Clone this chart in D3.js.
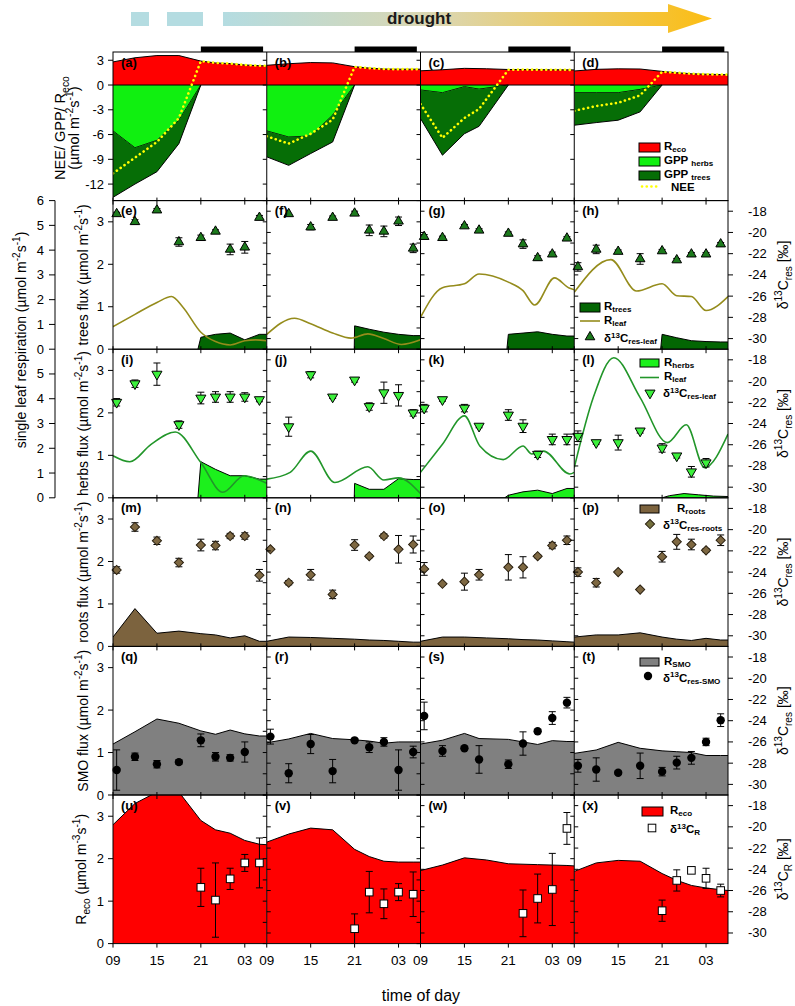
<!DOCTYPE html>
<html><head><meta charset="utf-8">
<script src="https://cdn.jsdelivr.net/npm/d3@7/dist/d3.min.js"></script>
<style>body{margin:0;background:#fff;} text{font-family:"Liberation Sans",Arial,sans-serif;}</style>
</head><body>
<svg id="chart" width="795" height="1006"></svg>
<script>
// ---------------- categories / ticks
const hourTicks = [9, 15, 21, 27];
const hourTickLabels = ["09", "15", "21", "03"];
const panelLetters = ["a","b","c","d","e","f","g","h","i","j","k","l","m","n","o","p","q","r","s","t","u","v","w","x"];
const row0Ticks = [-12, -9, -6, -3, 0, 3];
const fluxTicks = [0, 1, 2, 3];
const deltaTicks = [-30, -28, -26, -24, -22, -20, -18];
const leafTicks = [0, 1, 2, 3, 4, 5, 6];
const nightBar = [21, 29.5];

// ---------------- (a-d) NEE / GPP / Reco
const recoHours = [9, 12, 15, 18, 21, 23, 25, 27, 29, 30];
const recoValues = [
  [2.8, 3.3, 3.57, 3.57, 2.9, 2.68, 2.6, 2.43, 2.34, 2.33],
  [2.39, 2.58, 2.72, 2.68, 2.22, 2.05, 1.94, 1.92, 1.92, 1.92],
  [1.72, 1.85, 2.02, 1.97, 1.88, 1.87, 1.86, 1.85, 1.84, 1.83],
  [1.70, 1.9, 1.96, 1.94, 1.65, 1.49, 1.37, 1.31, 1.27, 1.25]];
const gppHours = [[9, 12, 15, 18, 21], [9, 12, 15, 18, 21], [9, 12, 15, 17, 21], [9, 12, 15, 18, 21]];
const gppHerbs = [
  [-5.56, -7.6, -6.7, -4.26, 0],
  [-5.56, -6.3, -6.17, -3.65, 0],
  [-0.6, -0.93, -0.2, -0.5, 0],
  [-0.93, -0.93, -0.93, -0.53, 0]];
const gppTrees = [
  [-8.04, -4.4, -3.8, -2.84, 0],
  [-3.14, -3.43, -2.13, -3.25, 0],
  [-3.46, -7.57, -5.7, -4.5, 0],
  [-3.94, -3.62, -3.33, -2.72, 0]];
const neeHours = [
  [9, 12, 15, 18, 21, 23, 25, 27, 29, 30],
  [9, 12, 15, 18, 21, 23, 25, 27, 29, 30],
  [9, 12, 15, 17, 21, 23, 25, 27, 29, 30],
  [9, 12, 15, 18, 21, 23, 25, 27, 29, 30]];
const neeValues = [
  [-10.7, -8.8, -6.9, -4.0, 2.9, 2.68, 2.6, 2.43, 2.34, 2.33],
  [-6.2, -7.1, -5.9, -4.2, 2.2, 2.05, 1.94, 1.92, 1.92, 1.92],
  [-2.3, -6.4, -4.0, -2.9, 1.85, 1.87, 1.86, 1.85, 1.84, 1.83],
  [-3.12, -2.55, -2.15, -1.25, 1.6, 1.49, 1.37, 1.31, 1.27, 1.25]];

// ---------------- (e-h) trees
const leafTreesHours = [
  [9, 12, 15, 17, 18.5, 21, 23, 25, 27, 28.5, 30],
  [9, 12.8, 15, 18, 20.5, 22.8, 25, 27.4, 30],
  [9, 12, 15, 17, 21, 23, 24.6, 27.3, 29.3, 30],
  [9, 14, 17.5, 21, 23, 25, 27, 30]];
const leafTreesValues = [
  [0.53, 0.82, 1.1, 1.24, 1.0, 0.4, 0.18, 0.1, 0.2, 0.22, 0.2],
  [0.35, 0.73, 0.6, 0.38, 0.26, 0.36, 0.25, 0.11, 0.22],
  [0.75, 1.45, 1.54, 1.77, 1.58, 1.38, 1.04, 1.68, 1.44, 1.4],
  [1.34, 2.11, 1.37, 1.54, 1.26, 1.24, 0.91, 1.24]];
const rTreesHours = [
  [20.6, 21, 23, 25, 27, 29, 30],
  [20.95, 21, 23, 25, 27, 29, 30],
  [20.8, 21, 23, 25, 27, 29, 30],
  [20.8, 21, 23, 25, 27, 29, 30]];
const rTreesValues = [
  [0, 0.28, 0.35, 0.38, 0.22, 0.35, 0.35],
  [0, 0.55, 0.47, 0.4, 0.35, 0.32, 0.32],
  [0, 0.35, 0.38, 0.41, 0.35, 0.31, 0.31],
  [0, 0.35, 0.27, 0.2, 0.18, 0.17, 0.17]];
const dTreesHours = [
  [9.5, 12, 15, 18, 21, 23, 25, 27, 29],
  [12, 15, 18, 21, 23, 25, 27, 29],
  [9.5, 12, 15, 17, 21, 23, 25, 27, 29],
  [9.5, 12, 15, 18, 21, 23, 25, 27, 29]];
const dTreesValues = [
  [-18.25, -19.0, -17.9, -20.9, -20.5, -19.9, -21.6, -21.4, -18.6],
  [-18.25, -19.5, -18.6, -18.2, -19.8, -19.9, -18.95, -21.5],
  [-20.4, -20.5, -19.4, -19.8, -20.1, -21.1, -22.4, -22.05, -20.55],
  [-23.25, -21.6, -21.8, -22.5, -21.75, -22.6, -22.05, -22.05, -21.1]];
const dTreesErr = [
  [0.15, 0.2, 0.15, 0.4, 0.25, 0.15, 0.5, 0.55, 0.2],
  [0.1, 0.25, 0.15, 0.2, 0.5, 0.5, 0.4, 0.4],
  [0.2, 0.15, 0.15, 0.15, 0.15, 0.4, 0.2, 0.2, 0.15],
  [0.4, 0.4, 0.15, 0.5, 0.15, 0.15, 0.15, 0.15, 0.15]];

// ---------------- (i-l) herbs
const leafHerbsHours = [
  [9, 11.3, 14.2, 17.5, 21, 24, 26.9, 30],
  [9, 12.2, 15, 18.3, 22.8, 25, 27, 30],
  [9, 12, 15, 17.1, 20.3, 23, 24.2, 25.8, 29.4, 30],
  [9, 11.6, 14.4, 18, 21.7, 24.3, 26.8, 30]];
const leafHerbsValues = [
  [0.99, 0.85, 1.26, 1.55, 0.83, 0.13, 0.52, 0.34],
  [0.44, 0.6, 1.1, 0.36, 0.73, 0.42, 0.47, 0.1],
  [0.6, 1.26, 1.93, 1.22, 0.9, 1.22, 1.03, 1.1, 0.56, 0.6],
  [0.71, 2.36, 3.3, 2.36, 1.3, 1.72, 0.71, 1.5]];
const rHerbsHours = [
  [20.6, 21, 23, 25, 27, 29, 30],
  [20.95, 21, 23, 25, 27, 29, 30],
  [20.5, 21, 23, 25, 27, 29, 30],
  [21, 22, 24, 26, 28, 30]];
const rHerbsValues = [
  [0, 0.85, 0.67, 0.52, 0.52, 0.44, 0.44],
  [0, 0.34, 0.2, 0.2, 0.45, 0.43, 0.43],
  [0, 0.06, 0.14, 0.18, 0.1, 0.22, 0.22],
  [0, 0.05, 0.1, 0.07, 0.04, 0.03]];
const dHerbsHours = [
  [9.5, 12, 15, 18, 21, 23, 25, 27, 29],
  [12, 15, 18, 21, 23, 25, 27, 29],
  [9.5, 12, 15, 17, 21, 23, 25, 27, 29],
  [9.5, 12, 15, 18, 21, 23, 25, 27]];
const dHerbsValues = [
  [-22.0, -20.25, -19.35, -24.1, -21.6, -21.5, -21.5, -21.5, -21.75],
  [-24.3, -19.4, -21.5, -19.9, -22.4, -21.1, -21.35, -23.0],
  [-22.55, -21.75, -22.55, -24.25, -23.2, -24.25, -26.9, -25.5, -25.5],
  [-25.2, -25.8, -25.8, -24.7, -26.3, -27.05, -28.55, -27.7]];
const dHerbsErr = [
  [0.35, 0.35, 1.05, 0.35, 0.55, 0.5, 0.5, 0.4, 0.2],
  [0.9, 0.3, 0.15, 0.2, 0.35, 1.0, 1.0, 0.3],
  [0.35, 0.15, 0.35, 0.15, 0.5, 0.6, 0.3, 0.5, 0.5],
  [0.5, 0.15, 0.7, 0.2, 0.4, 0.2, 0.5, 0.4]];

// ---------------- (m-p) roots
const rootsHours = [9, 12, 15, 18, 21, 23, 25, 27, 29, 30];
const rRootsValues = [
  [0.22, 0.89, 0.31, 0.36, 0.3, 0.27, 0.2, 0.25, 0.12, 0.12],
  [0.12, 0.22, 0.21, 0.19, 0.17, 0.15, 0.14, 0.12, 0.1, 0.1],
  [0.12, 0.22, 0.22, 0.2, 0.18, 0.16, 0.15, 0.13, 0.11, 0.1],
  [0.22, 0.27, 0.27, 0.32, 0.22, 0.17, 0.14, 0.19, 0.15, 0.15]];
const dRootsHours = [
  [9.5, 12, 15, 18, 21, 23, 25, 27, 29],
  [9.5, 12, 15, 18, 21, 23, 25, 27, 29],
  [9.5, 12, 15, 17, 21, 23, 25, 27, 29],
  [9.5, 12, 15, 18, 21, 23, 25, 27, 29]];
const dRootsValues = [
  [-23.8, -19.75, -21.05, -23.1, -21.45, -21.5, -20.6, -20.6, -24.3],
  [-21.85, -25.0, -24.25, -26.1, -21.45, -22.5, -20.6, -21.85, -21.4],
  [-23.7, -25.1, -24.9, -24.25, -23.55, -23.55, -22.5, -21.5, -21.0],
  [-24.0, -25.0, -24.0, -25.65, -22.55, -21.15, -21.4, -21.95, -21.0]];
const dRootsErr = [
  [0.3, 0.4, 0.35, 0.4, 0.55, 0.4, 0.25, 0.3, 0.55],
  [0.1, 0.2, 0.5, 0.4, 0.5, 0.15, 0.2, 1.3, 0.8],
  [0.6, 0.1, 0.8, 0.5, 1.2, 1.0, 0.15, 0.3, 0.4],
  [0.4, 0.4, 0.1, 0.1, 0.5, 0.7, 0.5, 0.15, 0.5]];

// ---------------- (q-t) SMO
const smoHours = [
  [9, 12, 15, 18, 21, 23, 25, 27, 29, 30],
  [9, 12, 15, 18, 21, 23, 25, 27, 29, 30],
  [9, 12, 15, 17, 21, 23, 25, 27, 29, 30],
  [9, 12, 15, 18, 21, 23, 25, 27, 29, 30]];
const rSmoValues = [
  [1.2, 1.49, 1.79, 1.69, 1.51, 1.43, 1.53, 1.44, 1.39, 1.39],
  [1.23, 1.32, 1.45, 1.33, 1.3, 1.27, 1.22, 1.25, 1.25, 1.25],
  [1.2, 1.29, 1.45, 1.33, 1.31, 1.25, 1.19, 1.28, 1.26, 1.26],
  [0.98, 1.06, 1.24, 1.1, 1.04, 1.02, 1.0, 0.93, 0.93, 0.93]];
const dSmoHours = [
  [9.5, 12, 15, 18, 21, 23, 25, 27],
  [9.5, 12, 15, 18, 21, 23, 25, 27, 29],
  [9.5, 12, 15, 17, 21, 23, 25, 27, 29],
  [9.5, 12, 15, 18, 21, 23, 25, 27, 29]];
const dSmoValues = [
  [-28.65, -27.4, -28.1, -27.9, -25.85, -27.4, -27.5, -26.95],
  [-25.5, -28.95, -26.2, -28.75, -25.85, -26.5, -26.0, -28.65, -26.95],
  [-23.55, -26.85, -26.6, -27.65, -28.1, -26.15, -25.0, -23.75, -22.3],
  [-28.25, -28.6, -28.9, -28.25, -28.8, -27.95, -27.5, -26.0, -23.95]];
const dSmoErr = [
  [1.9, 0.35, 0.35, 0.2, 0.6, 0.4, 0.3, 0.95],
  [0.7, 0.9, 0.9, 1.1, 0.15, 0.5, 0.4, 1.9, 0.55],
  [1.3, 0.5, 0.15, 1.3, 0.4, 1.1, 0.15, 0.6, 0.5],
  [0.6, 1.1, 0.15, 1.2, 0.4, 0.6, 0.6, 0.35, 0.6]];

// ---------------- (u-x) Reco and d13C_R
const dRHours = [[21, 23, 25, 27, 29], [21, 23, 25, 27, 29], [23, 25, 27, 29], [21, 23, 25, 27, 29]];
const dRValues = [
  [-25.7, -26.9, -24.9, -23.4, -23.4],
  [-29.6, -26.15, -27.25, -26.15, -26.35],
  [-28.15, -26.75, -25.9, -20.15],
  [-27.9, -25.05, -24.1, -24.85, -26.0]];
const dRErr = [
  [1.8, 3.5, 1.0, 0.8, 2.35],
  [1.4, 1.95, 1.4, 0.8, 2.1],
  [2.2, 2.3, 3.4, 1.5],
  [1.0, 1.0, 0.2, 0.95, 0.6]];

// ================= drawing =================
const svg = d3.select('#chart');
const defs = svg.append('defs');
const L = 113, R = 728, colW = (R - L) / 4, T0 = 52, RH = 148.6;
const rowTop = r => T0 + r * RH;
const xS = c => d3.scaleLinear().domain([9, 30]).range([L + c * colW, L + (c + 1) * colW]);
const y0S = d3.scaleLinear().domain([-14, 4]).range([T0 + RH, T0]);
const yF = r => d3.scaleLinear().domain([0, 3.5]).range([rowTop(r) + RH, rowTop(r)]);
const yD = r => d3.scaleLinear().domain([-31, -17]).range([rowTop(r) + RH, rowTop(r)]);
const leafUpper = d3.scaleLinear().domain([0, 6]).range([rowTop(1) + RH, rowTop(1)]);
const leafLower = d3.scaleLinear().domain([0, 6]).range([rowTop(2) + RH, rowTop(2)]);

function rich(parent, x, y, parts, o = {}) {
  const fs = o.size || 14;
  const subK = o.sub || 0.3, supK = o.sup || 0.4, sc = o.sc || 0.72;
  const t = parent.append('text').attr('x', x).attr('y', y)
    .attr('font-size', fs).attr('font-weight', o.weight || 'normal')
    .attr('text-anchor', o.anchor || 'start').attr('fill', '#000');
  if (o.rotate) t.attr('transform', `rotate(-90,${x},${y})`);
  let off = 0;
  parts.forEach(p => {
    const [s, k] = Array.isArray(p) ? p : [p, 'n'];
    let target = 0, size = fs;
    if (k === 'sub') { target = fs * subK; size = fs * sc; }
    if (k === 'sup') { target = -fs * supK; size = fs * sc; }
    t.append('tspan').text(s).attr('font-size', size).attr('dy', target - off);
    off = target;
  });
  return t;
}

function clipFor(r, c) {
  const id = `cl${r}_${c}`;
  defs.append('clipPath').attr('id', id).append('rect')
    .attr('x', L + c * colW).attr('y', rowTop(r)).attr('width', colW).attr('height', RH);
  return svg.append('g').attr('clip-path', `url(#${id})`);
}

function drawArea(g, x, y, hs, vs, fill, base) {
  const a = d3.area().x((d, i) => x(hs[i])).y0((d, i) => y(base ? base[i] : 0)).y1(d => y(d));
  g.append('path').attr('d', a(vs)).attr('fill', fill);
  const ln = d3.line().x((d, i) => x(hs[i])).y(d => y(d));
  g.append('path').attr('d', ln(vs)).attr('fill', 'none').attr('stroke', '#000').attr('stroke-width', 1);
}
function drawSmooth(g, x, y, hs, vs, color) {
  const ln = d3.line().curve(d3.curveMonotoneX).x((d, i) => x(hs[i])).y(d => y(d));
  g.append('path').attr('d', ln(vs)).attr('fill', 'none').attr('stroke', color).attr('stroke-width', 1.6);
}
function marker(g, px, py, shape, fill) {
  if (shape === 'tri') {
    g.append('path').attr('d', d3.symbol(d3.symbolTriangle, 40)()).attr('transform', `translate(${px},${py})`)
      .attr('fill', fill).attr('stroke', '#000').attr('stroke-width', 1);
  } else if (shape === 'tridown') {
    g.append('path').attr('d', d3.symbol(d3.symbolTriangle, 44)()).attr('transform', `translate(${px},${py}) rotate(180)`)
      .attr('fill', fill).attr('stroke', '#000').attr('stroke-width', 1);
  } else if (shape === 'diamond') {
    g.append('path').attr('d', d3.symbol(d3.symbolSquare, 42)()).attr('transform', `translate(${px},${py}) rotate(45)`)
      .attr('fill', fill).attr('stroke', '#2a2010').attr('stroke-width', 1);
  } else if (shape === 'circle') {
    g.append('circle').attr('cx', px).attr('cy', py).attr('r', 4.2).attr('fill', fill);
  } else if (shape === 'square') {
    g.append('rect').attr('x', px - 3.8).attr('y', py - 3.8).attr('width', 7.6).attr('height', 7.6)
      .attr('fill', fill).attr('stroke', '#000').attr('stroke-width', 1);
  }
}
function drawPoints(g, x, y, hs, vs, es, shape, fill) {
  hs.forEach((h, i) => {
    const px = x(h);
    if (es && es[i] > 0.12) {
      const a = y(vs[i] + es[i]), b = y(vs[i] - es[i]);
      g.append('line').attr('x1', px).attr('x2', px).attr('y1', a).attr('y2', b).attr('stroke', '#000');
      [a, b].forEach(yy => g.append('line').attr('x1', px - 3.5).attr('x2', px + 3.5).attr('y1', yy).attr('y2', yy).attr('stroke', '#000'));
    }
  });
  hs.forEach((h, i) => marker(g, x(h), y(vs[i]), shape, fill));
}

// ---- banner
const grad = defs.append('linearGradient').attr('id', 'dg').attr('x1', '0%').attr('x2', '100%').attr('y1', '0%').attr('y2', '0%');
grad.append('stop').attr('offset', '0%').attr('stop-color', '#b4dce1');
grad.append('stop').attr('offset', '45%').attr('stop-color', '#dcd6ae');
grad.append('stop').attr('offset', '100%').attr('stop-color', '#fcbd12');
svg.append('rect').attr('x', 131).attr('y', 12).attr('width', 18).attr('height', 14).attr('fill', '#b4dce1');
svg.append('rect').attr('x', 167).attr('y', 12).attr('width', 36).attr('height', 14).attr('fill', '#b4dce1');
svg.append('polygon').attr('points', '223,12 668,12 668,4 712,18.5 668,33 668,26 223,26').attr('fill', 'url(#dg)');
svg.append('text').attr('x', 419).attr('y', 24).attr('text-anchor', 'middle').attr('font-size', 17)
  .attr('font-weight', 'bold').attr('fill', '#1a1a1a').text('drought');

// ---- row 0
for (let c = 0; c < 4; c++) {
  const x = xS(c), y = y0S;
  const g = clipFor(0, c);
  drawArea(g, x, y, recoHours, recoValues[c], '#ff0000');
  const hs = gppHours[c];
  const herbs = gppHerbs[c];
  const total = herbs.map((v, i) => v + gppTrees[c][i]);
  drawArea(g, x, y, hs, herbs, '#10f010');
  drawArea(g, x, y, hs, total, '#066e06', herbs);
  g.append('line').attr('x1', x(9)).attr('x2', x(30)).attr('y1', y(0)).attr('y2', y(0)).attr('stroke', '#000');
  const ln = d3.line().x((d, i) => x(neeHours[c][i])).y(d => y(d));
  g.append('path').attr('d', ln(neeValues[c])).attr('fill', 'none').attr('stroke', '#ffff00')
    .attr('stroke-width', 2.6).attr('stroke-dasharray', '0.1,4.6').attr('stroke-linecap', 'round');
  svg.append('rect').attr('x', x(nightBar[0])).attr('y', T0 - 5.5).attr('width', x(nightBar[1]) - x(nightBar[0]))
    .attr('height', 5.5).attr('fill', '#000');
}

// ---- rows 1-4 generic
const rowsSpec = [
  {leafH: leafTreesHours, leafV: leafTreesValues, leafC: '#958c1c', areaH: rTreesHours, areaV: rTreesValues, areaC: '#036603',
   dH: dTreesHours, dV: dTreesValues, dE: dTreesErr, shape: 'tri', mfill: '#1c7a1c'},
  {leafH: leafHerbsHours, leafV: leafHerbsValues, leafC: '#22962a', areaH: rHerbsHours, areaV: rHerbsValues, areaC: '#1cf01c',
   dH: dHerbsHours, dV: dHerbsValues, dE: dHerbsErr, shape: 'tridown', mfill: '#3cf03c'},
  {areaH: [rootsHours, rootsHours, rootsHours, rootsHours], areaV: rRootsValues, areaC: '#7c633e',
   dH: dRootsHours, dV: dRootsValues, dE: dRootsErr, shape: 'diamond', mfill: '#7e6842'},
  {areaH: smoHours, areaV: rSmoValues, areaC: '#808080',
   dH: dSmoHours, dV: dSmoValues, dE: dSmoErr, shape: 'circle', mfill: '#000'}];
rowsSpec.forEach((sp, k) => {
  const r = k + 1;
  for (let c = 0; c < 4; c++) {
    const x = xS(c), y = yF(r), yd = yD(r);
    const g = clipFor(r, c);
    drawArea(g, x, y, sp.areaH[c], sp.areaV[c], sp.areaC);
    if (sp.leafH) drawSmooth(g, x, y, sp.leafH[c], sp.leafV[c], sp.leafC);
    drawPoints(svg, x, yd, sp.dH[c], sp.dV[c], sp.dE[c], sp.shape, sp.mfill);
  }
});

// ---- row 5
for (let c = 0; c < 4; c++) {
  const x = xS(c), y = yF(5), yd = yD(5);
  const g = clipFor(5, c);
  drawArea(g, x, y, recoHours, recoValues[c], '#ff0000');
  drawPoints(g, x, yd, dRHours[c], dRValues[c], dRErr[c], 'square', '#fff');
}

// ---- frames, ticks
const ax = svg.append('g').attr('stroke', '#000').attr('stroke-width', 1);
const tl = svg.append('g').attr('font-size', 13);
for (let r = 0; r < 6; r++) {
  const t = rowTop(r), b = t + RH;
  ax.append('rect').attr('x', L).attr('y', t).attr('width', R - L).attr('height', RH).attr('fill', 'none');
  for (let c = 1; c < 4; c++) {
    const xx = L + c * colW;
    ax.append('line').attr('x1', xx).attr('x2', xx).attr('y1', t).attr('y2', b);
  }
  for (let c = 0; c < 4; c++) {
    const x = xS(c);
    hourTicks.forEach(h => {
      ax.append('line').attr('x1', x(h)).attr('x2', x(h)).attr('y1', b).attr('y2', b + 4);
      if (r > 0) ax.append('line').attr('x1', x(h)).attr('x2', x(h)).attr('y1', t).attr('y2', t - 3);
    });
  }
  if (r === 0) {
    row0Ticks.forEach(v => {
      ax.append('line').attr('x1', L - 5).attr('x2', L).attr('y1', y0S(v)).attr('y2', y0S(v));
      for (let c = 1; c < 4; c++) {
        const xx = L + c * colW;
        ax.append('line').attr('x1', xx - 4).attr('x2', xx).attr('y1', y0S(v)).attr('y2', y0S(v));
      }
      tl.append('text').attr('x', L - 9).attr('y', y0S(v) + 4.5).attr('text-anchor', 'end').text(v);
    });
  } else {
    const y = yF(r), yd = yD(r);
    fluxTicks.forEach(v => {
      ax.append('line').attr('x1', L - 5).attr('x2', L).attr('y1', y(v)).attr('y2', y(v));
      tl.append('text').attr('x', L - 9).attr('y', y(v) + 4.5).attr('text-anchor', 'end').text(v);
    });
    d3.range(0, 3.51, 0.5).forEach(v => {
      for (let c = 1; c < 4; c++) {
        const xx = L + c * colW;
        ax.append('line').attr('x1', xx - 4).attr('x2', xx).attr('y1', y(v)).attr('y2', y(v));
      }
    });
    deltaTicks.forEach(v => {
      for (let c = 1; c < 4; c++) {
        const xx = L + c * colW;
        ax.append('line').attr('x1', xx).attr('x2', xx + 4).attr('y1', yd(v)).attr('y2', yd(v));
      }
      ax.append('line').attr('x1', R).attr('x2', R + 5).attr('y1', yd(v)).attr('y2', yd(v));
      tl.append('text').attr('x', 748).attr('y', yd(v) + 4.5).attr('text-anchor', 'start').text(v);
    });
  }
}

// bottom tick labels
for (let c = 0; c < 4; c++) {
  const x = xS(c);
  hourTicks.forEach((h, i) => {
    svg.append('text').attr('x', x(h)).attr('y', 965).attr('text-anchor', 'middle').attr('font-size', 13.5).text(hourTickLabels[i]);
  });
}
svg.append('text').attr('x', 421).attr('y', 1001).attr('text-anchor', 'middle').attr('font-size', 16).text('time of day');

// single leaf respiration outer axis
ax.append('line').attr('x1', 55).attr('x2', 55).attr('y1', rowTop(1)).attr('y2', rowTop(3));
leafTicks.forEach(v => {
  ax.append('line').attr('x1', 49).attr('x2', 55).attr('y1', leafUpper(v)).attr('y2', leafUpper(v));
  tl.append('text').attr('x', 44).attr('y', leafUpper(v) + 4.5).attr('text-anchor', 'end').text(v);
  if (v < 6) {
    ax.append('line').attr('x1', 49).attr('x2', 55).attr('y1', leafLower(v)).attr('y2', leafLower(v));
    tl.append('text').attr('x', 44).attr('y', leafLower(v) + 4.5).attr('text-anchor', 'end').text(v);
  }
});

// panel letters
panelLetters.forEach((l, i) => {
  const r = Math.floor(i / 4), c = i % 4;
  svg.append('text').attr('x', L + c * colW + 8).attr('y', rowTop(r) + 14.5).attr('font-size', 13)
    .attr('font-weight', 'bold').text(`(${l})`);
});

// ---- axis titles
const unitParts = ['(µmol m', ['-2', 'sup'], 's', ['-1', 'sup'], ')'];
rich(svg, 65, 128, ['NEE/ GPP/ R', ['eco', 'sub']], {rotate: true, anchor: 'middle', size: 14.5});
rich(svg, 79, 128, unitParts, {rotate: true, anchor: 'middle', size: 14.5});
rich(svg, 88, rowTop(1) + RH / 2, ['trees flux ', ...unitParts], {rotate: true, anchor: 'middle'});
rich(svg, 88, rowTop(2) + RH / 2, ['herbs flux ', ...unitParts], {rotate: true, anchor: 'middle'});
rich(svg, 88, rowTop(3) + RH / 2, ['roots flux ', ...unitParts], {rotate: true, anchor: 'middle'});
rich(svg, 88, rowTop(4) + RH / 2, ['SMO flux ', ...unitParts], {rotate: true, anchor: 'middle'});
rich(svg, 86, rowTop(5) + RH / 2, ['R', ['eco', 'sub'], ' (µmol m', ['-3', 'sup'], 's', ['-1', 'sup'], ')'], {rotate: true, anchor: 'middle'});
rich(svg, 26, 340, ['single leaf respiration ', ...unitParts], {rotate: true, anchor: 'middle'});
for (let r = 1; r <= 4; r++) {
  rich(svg, 788, rowTop(r) + RH / 2, ['δ', ['13', 'sup'], 'C', ['res', 'sub'], ' [‰]'], {rotate: true, anchor: 'middle'});
}
rich(svg, 788, rowTop(5) + RH / 2, ['δ', ['13', 'sup'], 'C', ['R', 'sub'], ' [‰]'], {rotate: true, anchor: 'middle'});

// ---- legends
const lg = svg.append('g');
function legBox(x, y, w, h, fill) {
  lg.append('rect').attr('x', x).attr('y', y).attr('width', w).attr('height', h).attr('fill', fill).attr('stroke', '#000');
}
const lo = {size: 11.5, weight: 'bold', sub: 0.2, sup: 0.35, sc: 0.7};
// row 0
legBox(639, 143, 21, 9, '#ff0000');
rich(lg, 664, 150, ['R', ['eco', 'sub']], lo);
legBox(639, 157, 21, 9, '#10f010');
rich(lg, 664, 164, ['GPP ', ['herbs', 'sub']], lo);
legBox(639, 171, 21, 9, '#066e06');
rich(lg, 664, 178, ['GPP ', ['trees', 'sub']], lo);
lg.append('line').attr('x1', 642).attr('x2', 660).attr('y1', 186.5).attr('y2', 186.5).attr('stroke', '#ffff00')
  .attr('stroke-width', 2.6).attr('stroke-dasharray', '0.1,4.6').attr('stroke-linecap', 'round');
rich(lg, 671, 191, ['NEE'], lo);
// trees
legBox(580, 303, 20, 9, '#036603');
rich(lg, 604, 310, ['R', ['trees', 'sub']], lo);
lg.append('line').attr('x1', 580).attr('x2', 600).attr('y1', 321).attr('y2', 321).attr('stroke', '#958c1c').attr('stroke-width', 1.6);
rich(lg, 604, 324, ['R', ['leaf', 'sub']], lo);
marker(lg, 590, 337, 'tri', '#1c7a1c');
rich(lg, 604, 342, ['δ', ['13', 'sup'], 'C', ['res-leaf', 'sub']], lo);
// herbs
legBox(640, 359, 19, 8, '#1cf01c');
rich(lg, 664, 366, ['R', ['herbs', 'sub']], lo);
lg.append('line').attr('x1', 640).attr('x2', 659).attr('y1', 377.5).attr('y2', 377.5).attr('stroke', '#22962a').attr('stroke-width', 1.6);
rich(lg, 664, 380, ['R', ['leaf', 'sub']], lo);
marker(lg, 650, 393, 'tridown', '#3cf03c');
rich(lg, 663, 397, ['δ', ['13', 'sup'], 'C', ['res-leaf', 'sub']], lo);
// roots
legBox(640, 505, 19, 8, '#7c633e');
rich(lg, 677, 512, ['R', ['roots', 'sub']], lo);
marker(lg, 650, 524, 'diamond', '#74703c');
rich(lg, 663, 528.5, ['δ', ['13', 'sup'], 'C', ['res-roots', 'sub']], lo);
// SMO
legBox(640, 658, 19, 8, '#808080');
rich(lg, 664, 665, ['R', ['SMO', 'sub']], lo);
marker(lg, 648, 676, 'circle', '#000');
rich(lg, 663, 681.5, ['δ', ['13', 'sup'], 'C', ['res-SMO', 'sub']], lo);
// Reco
legBox(642, 807, 21, 9, '#ff0000');
rich(lg, 670, 814, ['R', ['eco', 'sub']], lo);
marker(lg, 652, 828, 'square', '#fff');
rich(lg, 670, 833, ['δ', ['13', 'sup'], 'C', ['R', 'sub']], lo);
</script>
</body></html>
